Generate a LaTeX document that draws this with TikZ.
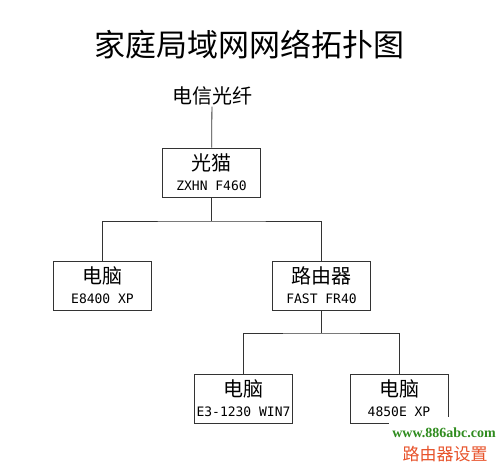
\documentclass[tikz,border=0pt]{standalone}
\usepackage{fontspec}
\newfontfamily\cnfont{Noto Sans CJK SC}
\newfontfamily\modelfont{DejaVu Sans Mono}
\newfontfamily\sitefont{Liberation Serif}
\definecolor{sitegreen}{HTML}{2F8C1E}
\definecolor{tagred}{HTML}{E8532B}
\newcommand{\model}[1]{{\modelfont\fontsize{13}{13}\selectfont #1}}

\begin{document}
\begin{tikzpicture}[x=1pt,y=-1pt,line width=0.8pt,
    devbox/.style={draw=black!80,minimum width=98pt,minimum height=49pt,inner sep=0pt,
      align=center,font=\cnfont\fontsize{20}{20}\selectfont},
    link/.style={draw=black!80,line width=0.8pt}]
    \useasboundingbox[fill=white] (0,0) rectangle (500,468);

    \node[font=\cnfont\fontsize{31}{31}\selectfont] (title) at (249,45) {家庭局域网网络拓扑图};
    \node[font=\cnfont\fontsize{20}{20}\selectfont,inner sep=1pt] (fiber) at (212,96) {电信光纤};

    \node[devbox] (modem) at (211.5,172.5) {光猫\\\model{ZXHN F460}};
    \node[devbox] (pcA) at (102.5,285.5) {电脑\\\model{E8400 XP}};
    \node[devbox] (router) at (321.5,285.5) {路由器\\\model{FAST FR40}};
    \node[devbox] (pcB) at (243.5,398.5) {电脑\\\model{E3-1230 WIN7}};
    \node[devbox] (pcC) at (399,398.5) {电脑\\\model{4850E XP}};

    \coordinate (busA) at (211.5,221);
    \coordinate (busB) at (321.5,333);

    \draw[link] (fiber) -- (modem);
    \draw[link] (modem) -- (busA);
    \draw[link] (pcA.north) |- (busA) -| (router.north);
    \draw[link] (router) -- (busB);
    \draw[link] (pcB.north) |- (busB) -| (pcC.north);

    % watermark
    \fill[white] (389,417) rectangle (500,468);
    \node[anchor=base,text=sitegreen,font=\sitefont\bfseries\fontsize{14}{14}\selectfont] (site) at (444,437) {www.886abc.com};
    \node[text=tagred,font=\cnfont\fontsize{17}{17}\selectfont] (tag) at (445,454) {路由器设置};
\end{tikzpicture}
\end{document}
